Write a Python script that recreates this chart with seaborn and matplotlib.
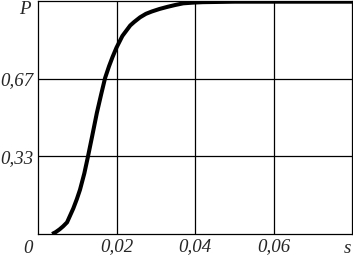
import pandas as pd
import seaborn as sns
import matplotlib.pyplot as plt

# curve
t = [0.0036, 0.0045, 0.0055, 0.0064, 0.0074, 0.0082, 0.0090, 0.0099, 0.0107,
     0.0118, 0.0127, 0.0138, 0.0150, 0.0161, 0.0171, 0.0181, 0.0190, 0.0200,
     0.0215, 0.0235, 0.0245, 0.0260, 0.0275, 0.0290, 0.0310, 0.0330, 0.0350,
     0.0370, 0.0395, 0.0420, 0.0460, 0.0500, 0.0800]
p = [0.0, 0.008, 0.02, 0.033, 0.05, 0.08, 0.11, 0.15, 0.19,
     0.26, 0.33, 0.42, 0.52, 0.60, 0.67, 0.72, 0.76, 0.80,
     0.85, 0.895, 0.91, 0.93, 0.945, 0.955, 0.966, 0.975, 0.983,
     0.99, 0.993, 0.995, 0.996, 0.997, 0.997]

x_ticks = [0.02, 0.04, 0.06]
x_labels = ["0,02", "0,04", "0,06"]
y_ticks = [1 / 3, 2 / 3]
y_labels = ["0,33", "0,67"]

df = pd.DataFrame({"t": t, "P": p})

sns.set_theme(style="white")
plt.rcParams['font.family'] = ['Liberation Serif', 'DejaVu Serif']
plt.rcParams['font.style'] = 'italic'

fig = plt.figure(figsize=(3.53, 2.58), dpi=100)
ax = fig.add_axes([38 / 353, 24 / 258, 314 / 353, 233 / 258])

sns.lineplot(data=df, x="t", y="P", ax=ax, color="black", linewidth=2.9,
             solid_capstyle="butt", solid_joinstyle="round")

ax.set_xlim(0, 0.08)
ax.set_ylim(0, 1)
ax.set_xticks(x_ticks)
ax.set_xticklabels(x_labels, fontsize=13.6, style="italic")
ax.set_yticks(y_ticks)
ax.set_yticklabels(y_labels, fontsize=13.6, style="italic")
ax.tick_params(length=0, pad=3)
ax.grid(True, color="black", linewidth=0.9)
for s in ax.spines.values():
    s.set_color("black")
    s.set_linewidth(0.9)
ax.set_xlabel("")
ax.set_ylabel("")

ax.text(-0.0025, -0.025, "0", ha="center", va="top", fontsize=13.6, style="italic")
ax.text(0.0789, -0.025, "s", ha="center", va="top", fontsize=13.6, style="italic")
ax.text(-0.0034, 0.965, "P", ha="center", va="center", fontsize=13.6, style="italic")

fig.savefig("out.png", dpi=100)
